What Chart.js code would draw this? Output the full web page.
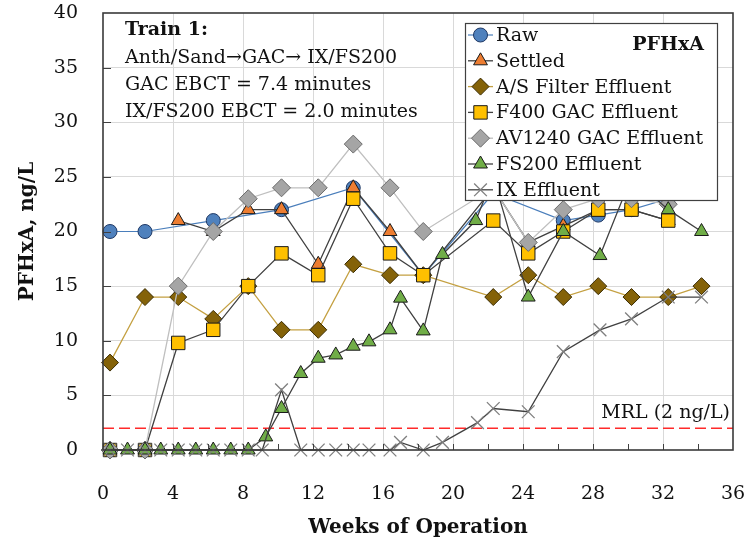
<!DOCTYPE html>
<html><head><meta charset="utf-8">
<script src="https://cdn.jsdelivr.net/npm/chart.js@4.4.1/dist/chart.umd.min.js"></script>
<style>html,body{margin:0;padding:0;background:#fff;}canvas{display:block;}</style>
</head><body>
<canvas id="c" width="753" height="543"></canvas>
<script>
// ---- tick labels ----
const xTickLabels = ['0','4','8','12','16','20','24','28','32','36'];
const yTickLabels = ['0','5','10','15','20','25','30','35','40'];

// ---- series (weeks of operation, PFHxA ng/L) ----
const rawWeeks = [0.4, 2.4, 6.3, 10.2, 14.3, 18.3, 22.3, 26.3, 28.3, 30.2, 32.3];
const rawVals  = [20, 20, 21, 22, 24, 16, 23.5, 21, 21.5, 22, 23];

const settledWeeks = [4.3, 6.3, 8.3, 10.2, 12.3, 14.3, 16.4, 18.3, 22.3, 24.3, 26.3, 28.3, 30.2, 32.3];
const settledVals  = [21, 20, 22, 22, 17, 24, 20, 16, 24, 19, 20.5, 22, 22, 21];

const asWeeks = [0.4, 2.4, 4.3, 6.3, 8.3, 10.2, 12.3, 14.3, 16.4, 18.3, 22.3, 24.3, 26.3, 28.3, 30.2, 32.3, 34.2];
const asVals  = [8, 14, 14, 12, 15, 11, 11, 17, 16, 16, 14, 16, 14, 15, 14, 14, 15];

const f400Weeks = [0.4, 2.4, 4.3, 6.3, 8.3, 10.2, 12.3, 14.3, 16.4, 18.3, 22.3, 24.3, 26.3, 28.3, 30.2, 32.3];
const f400Vals  = [0, 0, 9.8, 11, 15, 18, 16, 23, 18, 16, 21, 18, 20, 22, 22, 21];

const av1240Weeks = [0.4, 2.4, 4.3, 6.3, 8.3, 10.2, 12.3, 14.3, 16.4, 18.3, 22.3, 24.3, 26.3, 28.3, 30.2, 32.3, 34.2];
const av1240Vals  = [0, 0, 15, 20, 23, 24, 24, 28, 24, 20, 24, 19, 22, 23, 23, 22.5, 25];

const fs200Weeks = [0.4, 1.4, 2.4, 3.3, 4.3, 5.3, 6.3, 7.3, 8.3, 9.3, 10.2, 11.3, 12.3, 13.3, 14.3, 15.2, 16.4, 17.0, 18.3, 19.4, 21.3, 22.3, 24.3, 26.3, 28.4, 30.2, 32.3, 34.2];
const fs200Vals  = [0, 0, 0, 0, 0, 0, 0, 0, 0, 1.2, 3.8, 7.0, 8.4, 8.7, 9.5, 9.9, 11, 13.9, 10.9, 17.9, 21, 25, 14, 20, 17.8, 25, 22, 20];

const ixWeeks = [0.4, 1.4, 2.4, 3.3, 4.3, 5.3, 6.3, 7.3, 8.3, 9.1, 10.2, 11.3, 12.3, 13.3, 14.3, 15.2, 16.4, 17.0, 18.3, 19.4, 21.4, 22.3, 24.3, 26.3, 28.4, 30.2, 32.3, 34.2];
const ixVals  = [0, 0, 0, 0, 0, 0, 0, 0, 0, 0, 5.5, 0, 0, 0, 0, 0, 0, 0.7, 0, 0.7, 2.5, 3.8, 3.5, 9, 11, 12, 14, 14];

const mrlWeeks = [0, 36];
const mrlVals  = [2, 2];

const seriesNames = ['Raw','Settled','A/S Filter Effluent','F400 GAC Effluent','AV1240 GAC Effluent','FS200 Effluent','IX Effluent'];
const noteLines = ['Train 1:', 'Anth/Sand\u2192GAC\u2192 IX/FS200', 'GAC EBCT = 7.4 minutes', 'IX/FS200 EBCT = 2.0 minutes'];
const compoundLabel = 'PFHxA';
const mrlLabel = 'MRL (2 ng/L)';

const pts = (xs, ys) => xs.map((x, i) => ({x: x, y: ys[i]}));
const SERIF = "'DejaVu Serif', 'Liberation Serif', serif";

const styles = [
  {line:'#4A7EBB', lw:1.2, ps:'circle',   r:7,   fill:'#4F81BD', stroke:'#1F3864', pbw:1},
  {line:'#404040', lw:1.3, ps:'triangle', r:8,   fill:'#ED7D31', stroke:'#1a1a1a', pbw:1},
  {line:'#C4A041', lw:1.3, ps:'rectRot',  r:8.5, fill:'#846208', stroke:'#3a2b00', pbw:1},
  {line:'#404040', lw:1.3, ps:'rect',     r:9.5, fill:'#FFC000', stroke:'#1a1a1a', pbw:1},
  {line:'#BFBFBF', lw:1.3, ps:'rectRot',  r:9,   fill:'#A5A5A5', stroke:'#6B6B6B', pbw:1},
  {line:'#404040', lw:1.3, ps:'triangle', r:8,   fill:'#70AD47', stroke:'#1a1a1a', pbw:1},
  {line:'#404040', lw:1.3, ps:'crossRot', r:9,   fill:'#7F7F7F', stroke:'#7F7F7F', pbw:1.3}
];
const seriesData = [
  pts(rawWeeks, rawVals), pts(settledWeeks, settledVals), pts(asWeeks, asVals),
  pts(f400Weeks, f400Vals), pts(av1240Weeks, av1240Vals), pts(fs200Weeks, fs200Vals), pts(ixWeeks, ixVals)
];

const datasets = seriesData.map((d, i) => ({
  label: seriesNames[i], data: d,
  borderColor: styles[i].line, borderWidth: styles[i].lw,
  pointStyle: styles[i].ps, pointRadius: styles[i].r, pointHoverRadius: styles[i].r,
  pointBackgroundColor: styles[i].fill, pointBorderColor: styles[i].stroke,
  pointBorderWidth: styles[i].pbw, tension: 0, clip: false, fill: false,
  order: seriesNames.length + 1 - i
}));
datasets.push({
  label: 'MRL', data: pts(mrlWeeks, mrlVals), borderColor: '#FF2A2A', borderWidth: 1.5,
  borderDash: [11, 5], pointRadius: 0, tension: 0, fill: false, order: 20
});

function marker(ctx, s, x, y) {
  const r = s.r;
  ctx.save();
  ctx.fillStyle = s.fill; ctx.strokeStyle = s.stroke; ctx.lineWidth = s.pbw;
  ctx.beginPath();
  if (s.ps === 'circle') { ctx.arc(x, y, r, 0, Math.PI * 2); ctx.fill(); ctx.stroke(); }
  else if (s.ps === 'triangle') {
    let a = 0;
    ctx.moveTo(x + Math.sin(a) * r, y - Math.cos(a) * r); a += 2 * Math.PI / 3;
    ctx.lineTo(x + Math.sin(a) * r, y - Math.cos(a) * r); a += 2 * Math.PI / 3;
    ctx.lineTo(x + Math.sin(a) * r, y - Math.cos(a) * r); ctx.closePath(); ctx.fill(); ctx.stroke();
  } else if (s.ps === 'rect') {
    const h = Math.SQRT1_2 * r; ctx.rect(x - h, y - h, 2 * h, 2 * h); ctx.fill(); ctx.stroke();
  } else if (s.ps === 'rectRot') {
    ctx.moveTo(x, y - r); ctx.lineTo(x + r, y); ctx.lineTo(x, y + r); ctx.lineTo(x - r, y); ctx.closePath(); ctx.fill(); ctx.stroke();
  } else if (s.ps === 'crossRot') {
    const h = Math.SQRT1_2 * r;
    ctx.moveTo(x - h, y - h); ctx.lineTo(x + h, y + h); ctx.moveTo(x + h, y - h); ctx.lineTo(x - h, y + h); ctx.stroke();
  }
  ctx.restore();
}

const overlay = {
  id: 'overlay',
  afterDatasetsDraw(chart) {
    const ctx = chart.ctx, a = chart.chartArea, xs = chart.scales.x, ys = chart.scales.y;
    ctx.save();
    // inward ticks
    ctx.strokeStyle = '#404040'; ctx.lineWidth = 1;
    for (let v = 2; v < 36; v += 2) {
      const px = Math.round(xs.getPixelForValue(v)) + 0.5;
      ctx.beginPath(); ctx.moveTo(px, a.bottom); ctx.lineTo(px, a.bottom - 6); ctx.stroke();
    }
    for (let v = 5; v < 40; v += 5) {
      const py = Math.round(ys.getPixelForValue(v)) + 0.5;
      ctx.beginPath(); ctx.moveTo(a.left, py); ctx.lineTo(a.left + 8, py); ctx.stroke();
    }
    // frame
    ctx.strokeStyle = '#3a3a3a'; ctx.lineWidth = 1.6;
    ctx.strokeRect(a.left, a.top, a.right - a.left, a.bottom - a.top);

    // notes
    ctx.fillStyle = '#111'; ctx.textBaseline = 'middle'; ctx.textAlign = 'left';
    const noteY = [30, 58, 85, 112];
    noteLines.forEach((t, i) => {
      ctx.font = (i === 0 ? 'bold ' : '') + '19px ' + SERIF;
      ctx.fillText(t, 125, noteY[i]);
    });
    // MRL label
    ctx.font = '19px ' + SERIF; ctx.textAlign = 'right';
    ctx.fillText(mrlLabel, 730, 413);

    // legend box
    const lx = 465, ly = 23, lw = 252, lh = 177;
    ctx.fillStyle = '#fff'; ctx.fillRect(lx, ly, lw, lh);
    ctx.strokeStyle = '#404040'; ctx.lineWidth = 1.2; ctx.strokeRect(lx + 0.5, ly + 0.5, lw, lh);
    seriesNames.forEach((name, i) => {
      const y = 35 + 25.8 * i, s = styles[i];
      ctx.strokeStyle = s.line; ctx.lineWidth = s.lw;
      ctx.beginPath(); ctx.moveTo(468, y); ctx.lineTo(493, y); ctx.stroke();
      marker(ctx, s, 480.5, y);
      ctx.fillStyle = '#111'; ctx.font = '19px ' + SERIF; ctx.textAlign = 'left';
      ctx.fillText(name, 496, y + 1);
    });
    ctx.font = 'bold 19px ' + SERIF; ctx.textAlign = 'right';
    ctx.fillText(compoundLabel, 704, 45);
    ctx.restore();
  }
};

new Chart(document.getElementById('c'), {
  type: 'line',
  data: { datasets: datasets },
  options: {
    responsive: false, animation: false, devicePixelRatio: 1,
    layout: { padding: { left: 0, top: 13, right: 20, bottom: 0 } },
    plugins: { legend: { display: false }, tooltip: { enabled: false } },
    scales: {
      x: {
        type: 'linear', min: 0, max: 36,
        afterFit: s => { s.height = 93; s.paddingLeft = 0; s.paddingRight = 0; },
        ticks: { stepSize: 2, autoSkip: false, maxRotation: 0, padding: 33, color: '#111',
          font: { family: SERIF, size: 19 },
          callback: v => (v % 4 === 0 ? xTickLabels[v / 4] : '') },
        grid: { drawTicks: false, lineWidth: 1,
          color: c => (c.tick && c.tick.value % 4 === 0 && c.tick.value > 0 && c.tick.value < 36) ? '#D9D9D9' : 'rgba(0,0,0,0)' },
        border: { display: false },
        title: { display: true, text: 'Weeks of Operation', color: '#111',
          font: { family: SERIF, size: 20, weight: 'bold' }, padding: { top: 0, bottom: 3 } }
      },
      y: {
        type: 'linear', min: 0, max: 40,
        afterFit: s => { s.width = 103; s.paddingTop = 0; s.paddingBottom = 0; },
        ticks: { stepSize: 5, padding: 25, color: '#111', font: { family: SERIF, size: 19 },
          callback: v => yTickLabels[v / 5] },
        grid: { drawTicks: false, lineWidth: 1,
          color: c => (c.tick && c.tick.value > 0 && c.tick.value < 40) ? '#D9D9D9' : 'rgba(0,0,0,0)' },
        border: { display: false },
        title: { display: true, text: 'PFHxA, ng/L', color: '#111',
          font: { family: SERIF, size: 20, weight: 'bold' }, padding: { top: 16, bottom: 0 } }
      }
    }
  },
  plugins: [overlay]
});
</script>
</body></html>
